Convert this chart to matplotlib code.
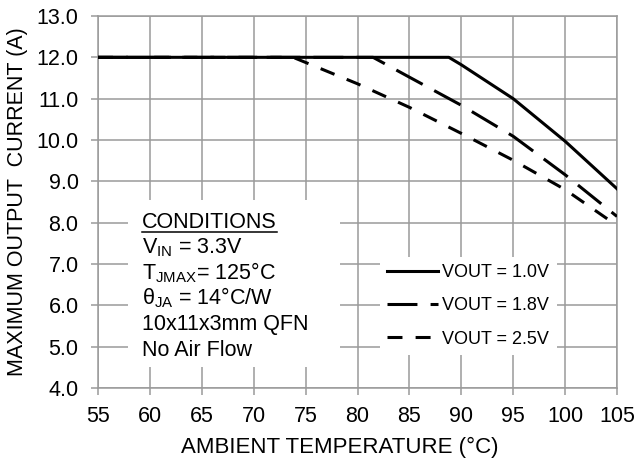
import numpy as np
import matplotlib
matplotlib.use('Agg')
import matplotlib.pyplot as plt
from matplotlib.patches import Rectangle

plt.rcParams['font.family'] = ['Liberation Sans', 'DejaVu Sans']
plt.rcParams['mathtext.fontset'] = 'custom'
plt.rcParams['mathtext.rm'] = 'Liberation Sans'
plt.rcParams['mathtext.it'] = 'Liberation Sans'

# DATA
t_10 = [55, 88.8, 90, 95, 100, 105]
i_10 = [12.0, 12.0, 11.82, 11.0, 9.97, 8.82]

t_18 = [55, 81.5, 85, 90, 95, 100, 105]
i_18 = [12.0, 12.0, 11.52, 10.84, 10.09, 9.16, 8.15]

t_25 = [55, 73.8, 80, 85, 90, 95, 100, 105]
i_25 = [12.0, 12.0, 11.36, 10.79, 10.16, 9.51, 8.8, 7.93]

labels = ['VOUT = 1.0V', 'VOUT = 1.8V', 'VOUT = 2.5V']
xticks = np.arange(55, 106, 5)
yticks = np.arange(4, 13.1, 1)

W, H = 635, 459
fig = plt.figure(figsize=(W/100, H/100), dpi=100)
ax = fig.add_axes([98/W, 1-388/H, (617-98)/W, (388-16)/H])

grey = '#9a9a9a'
fs = 15.5
ax.set_xlim(55, 105)
ax.set_ylim(4, 13)
ax.set_xticks(xticks)
ax.set_yticks(yticks)
ax.set_yticklabels(['%.1f' % v for v in yticks])
ax.grid(True, color=grey, lw=1.1)
ax.set_axisbelow(True)
for s in ax.spines.values():
    s.set_color(grey)
    s.set_linewidth(1.1)
ax.tick_params(direction='out', length=5, width=1.1, color=grey, labelsize=fs)
ax.tick_params(axis='y', pad=9)
ax.tick_params(axis='x', pad=8)

lw = 2.2
ax.plot(t_10, i_10, color='black', lw=lw, zorder=3, label=labels[0])
ax.plot(t_18, i_18, color='black', lw=lw, ls=(0, (9.8, 4.3)), zorder=3, label=labels[1])
ax.plot(t_25, i_25, color='black', lw=lw, ls=(0, (4.9, 4.3)), zorder=3, label=labels[2])

ax.set_xlabel('AMBIENT TEMPERATURE (\u00b0C)', fontsize=16, labelpad=7, x=0.466)
ax.set_ylabel('MAXIMUM OUTPUT  CURRENT (A)', fontsize=fs, labelpad=6)

# conditions box
ax.add_patch(Rectangle((128/W, 1-367/H), (340-128)/W, (367-200)/H,
                       transform=fig.transFigure, facecolor='white',
                       edgecolor='none', zorder=1))
cond = ['CONDITIONS',
        r'V$_{\mathrm{IN}}$ = 3.3V',
        r'T$_{\mathrm{JMAX}}$= 125°C',
        r'θ$_{\mathrm{JA}}$ = 14°C/W',
        '10x11x3mm QFN',
        'No Air Flow']
base = 228
for k, line in enumerate(cond):
    fig.text(142/W, 1-(base+k*25.6)/H, line, fontsize=fs, va='baseline', ha='left')
fig.canvas.draw()
bb = fig.texts[0].get_window_extent()
fig.add_artist(plt.Line2D([bb.x0/W, bb.x1/W], [1-232/H, 1-232/H], color='black', lw=1.1))

leg = ax.legend(loc='upper left', bbox_to_anchor=(380/W, 1-257/H),
                bbox_transform=fig.transFigure, fontsize=13, frameon=True,
                fancybox=False, edgecolor='none', framealpha=1,
                handlelength=2.8, handletextpad=0.25, labelspacing=0.9,
                borderpad=0.4, borderaxespad=0)
leg.set_zorder(4)

fig.savefig('out.png', dpi=100)
